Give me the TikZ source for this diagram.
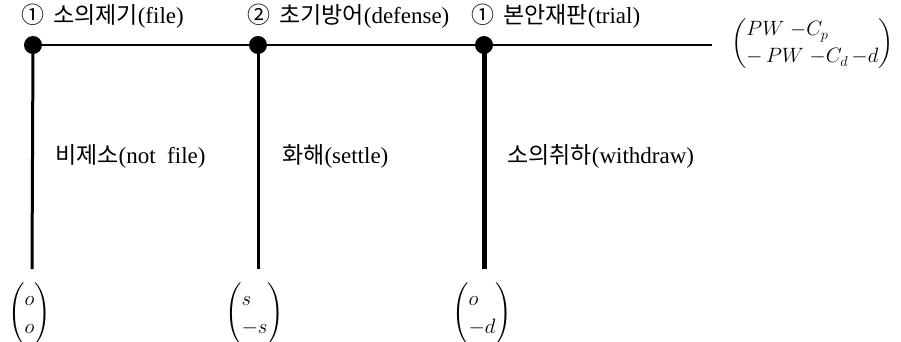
\documentclass[tikz,border=0pt]{standalone}
\usepackage{amsmath}
\usepackage{fontspec}
\setmainfont{Liberation Serif}
\newfontfamily\kr{Noto Sans CJK KR}
\tikzset{
  dot/.style={circle,fill=black,inner sep=0pt,minimum size=18pt},
  lab/.style={anchor=base west,inner sep=0pt,font=\fontsize{23}{27}\selectfont},
  vec/.style={inner sep=0pt,anchor=west,font=\fontsize{22}{27}\selectfont},
  bvec/.style={inner sep=0pt,anchor=west,font=\fontsize{22}{28}\selectfont},
}
\newcommand{\gp}{\hspace{9pt}}
\begin{document}
\begin{tikzpicture}[x=1pt,y=1pt]
\useasboundingbox (0,0) rectangle (901,341);
\node[dot] (d1) at (33,296) {};
\node[dot] (d2) at (258,296) {};
\node[dot] (d3) at (484,296) {};
\coordinate (e) at (712,296);
\coordinate (b1) at (32,72);
\coordinate (b2) at (258,72);
\coordinate (b3) at (484,72);
\draw[line width=2.7pt] (d1.center) -- (d2.center) -- (d3.center) -- (e);
\draw[line width=3pt] (d1.center) -- (b1);
\draw[line width=3pt] (d2.center) -- (b2);
\draw[line width=5pt] (d3.center) -- (b3);
\node[lab] (t1) at (21,318) {{\kr ①}\gp{\kr 소의제기}(file)};
\node[lab] (t2) at (247,318) {{\kr ②}\gp{\kr 초기방어}(defense)};
\node[lab] (t3) at (471,318) {{\kr ①}\gp{\kr 본안재판}(trial)};
\node[lab] (m1) at (55,178) {{\kr 비제소}(not\ \ file)};
\node[lab] (m2) at (282,178) {{\kr 화해}(settle)};
\node[lab] (m3) at (507,178) {{\kr 소의취하}(withdraw)};
\node[vec] (v) at (731,297) {$\left(\begin{array}{@{}l@{}}PW\;{-}C_p\\ {-}\,PW\;{-}C_d\,{-}d\end{array}\right)$};
\node[bvec] (o1) at (8,27) {$\left(\begin{array}{@{}l@{}}o\\ o\end{array}\right)$};
\node[bvec] (o2) at (225,27) {$\left(\begin{array}{@{}l@{}}s\\ {-}s\end{array}\right)$};
\node[bvec] (o3) at (452,27) {$\left(\begin{array}{@{}l@{}}o\\ {-}d\end{array}\right)$};
\end{tikzpicture}
\end{document}
